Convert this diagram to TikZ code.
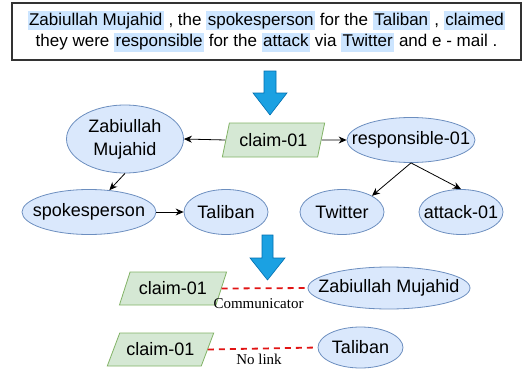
\documentclass[tikz,border=0pt]{standalone}
\usepackage{fontspec}
\setmainfont{Liberation Sans}
\newfontfamily\serifx{Liberation Serif}
\usetikzlibrary{shapes.geometric,arrows.meta}
\definecolor{hl}{RGB}{204,229,255}
\definecolor{efill}{RGB}{218,232,252}
\definecolor{edraw}{RGB}{108,142,191}
\definecolor{pfill}{RGB}{213,232,212}
\definecolor{pdraw}{RGB}{130,179,102}
\definecolor{afill}{RGB}{27,161,226}
\definecolor{adraw}{RGB}{0,110,175}
\definecolor{rdash}{RGB}{225,20,20}
\definecolor{boxd}{RGB}{51,51,51}
\newcommand\hw[1]{{\fboxsep=1.5pt\colorbox{hl}{\vphantom{Ag}#1}}}
\tikzset{
  ell/.style={ellipse, draw=edraw, fill=efill, line width=0.8pt, inner sep=0pt,
     label={[inner sep=0pt, align=center, font=\fontsize{18}{23}\selectfont]center:#1}},
  para/.style={trapezium, trapezium stretches=true, trapezium left angle=#1, trapezium right angle=180-#1,
     draw=pdraw, fill=pfill, line width=0.8pt, inner sep=0pt, font=\fontsize{18}{20}\selectfont},
  edge/.style={-{Stealth[length=8pt,width=7pt]}, line width=0.8pt, black},
  rlink/.style={draw=rdash, line width=1.8pt, dash pattern=on 6pt off 5pt},
  lbl/.style={font=\serifx\fontsize{15}{17}\selectfont, inner sep=0pt},
  bigarrow/.style={fill=afill, draw=adraw, line width=0.6pt, line join=miter}
}
\begin{document}
\begin{tikzpicture}[x=1pt,y=-1pt]
\useasboundingbox (0,0) rectangle (528,372);
% sentence box
\node[draw=boxd, line width=1.1pt, minimum width=509pt, minimum height=57pt, inner sep=0pt,
      align=center, font=\fontsize{17}{21.5}\selectfont] (sent) at (266.5,31.5)
  {\hw{Zabiullah Mujahid} , the \hw{spokesperson} for the \hw{Taliban} , \hw{claimed}\\
   they were \hw{responsible} for the \hw{attack} via \hw{Twitter} and e - mail .};
% big arrow 1
\draw[bigarrow] (264,71) -- (276,71) -- (276,93) -- (287,93) -- (270,115) -- (253,93) -- (264,93) -- cycle;
% graph
\node[para=67.6, minimum width=103pt, minimum height=34pt] (c1) at (273.5,140) {claim-01};
\node[ell={Zabiullah\\Mujahid}, minimum width=117pt, minimum height=68pt] (zab) at (125,139) {};
\node[ell={responsible-01}, minimum width=128pt, minimum height=45pt] (resp) at (411,140) {};
\node[ell={spokesperson}, minimum width=134pt, minimum height=45pt] (spoke) at (89,212) {};
\node[ell={Taliban}, minimum width=84pt, minimum height=45pt] (tal) at (226,212) {};
\node[ell={Twitter}, minimum width=84pt, minimum height=45pt] (tw) at (342,212) {};
\node[ell={attack-01}, minimum width=84pt, minimum height=45pt] (att) at (461,212) {};
\draw[edge] (c1.west) -- (zab.east);
\draw[edge] (c1.east) -- (resp.west);
\draw[edge] (zab.south) -- (spoke);
\draw[edge] (spoke.east) -- (tal.west);
\draw[edge] (resp.south) -- (tw.north east);
\draw[edge] (resp.south) -- (att.north);
% big arrow 2
\draw[bigarrow] (262,235) -- (273,235) -- (273,258) -- (285,258) -- (267.5,280) -- (250,258) -- (262,258) -- cycle;
% bottom pairs
\node[para=57.5, minimum width=108pt, minimum height=33pt] (c2) at (173,288.5) {claim-01};
\node[ell={Zabiullah Mujahid}, minimum width=162pt, minimum height=42pt] (zab2) at (389,288) {};
\node[para=51.8, minimum width=107pt, minimum height=33pt] (c3) at (160.5,349.5) {claim-01};
\node[ell={Taliban}, minimum width=85pt, minimum height=41pt] (tal2) at (360.5,347.5) {};
\draw[rlink] (c2.east) -- (zab2.west);
\draw[rlink] (c3.east) -- (tal2.west);
\node[lbl] (l1) at (258.5,304) {Communicator};
\node[lbl] (l2) at (259,359) {No link};
\end{tikzpicture}
\end{document}
